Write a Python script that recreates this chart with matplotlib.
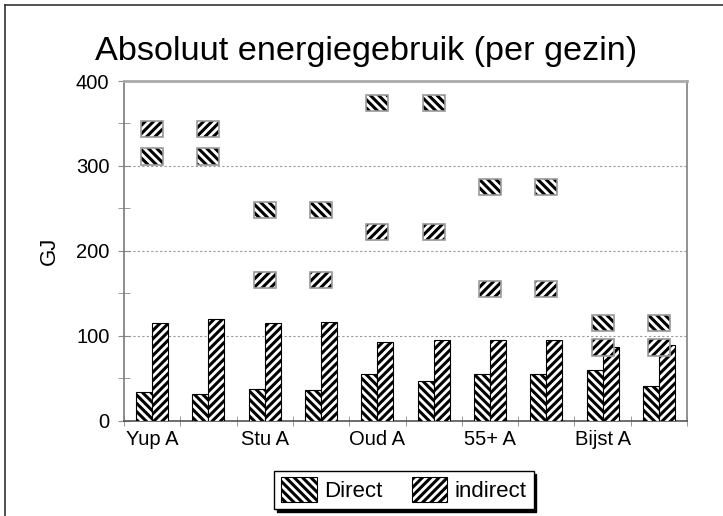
#!/usr/bin/env python3
"""Absoluut energiegebruik per gezin: bars + hatched marker boxes."""

import numpy as np
import matplotlib

matplotlib.use("Agg")
import matplotlib.pyplot as plt
from matplotlib.lines import Line2D

labels = ["Yup A", "", "Stu A", "", "Oud A", "", "55+ A", "", "Bijst A", ""]
direct = [33, 31.5, 37, 36, 55, 46.5, 55, 55, 60, 41]
indirect = [115, 119, 115, 116.5, 92.5, 94.5, 94.5, 94.5, 86.5, 88.5]
direct_mark = [311, 311, 248, 248, 374, 374, 275, 275, 115, 115]
indirect_mark = [343, 343, 166, 166, 222, 222, 155, 155, 86, 86]

plt.rcParams["font.family"] = ["Liberation Sans", "DejaVu Sans"]
plt.rcParams["hatch.linewidth"] = 2.2

H_DIRECT = "\\\\\\\\"
H_INDIRECT = "////"

fig = plt.figure(figsize=(7.23, 5.16), dpi=100)
ax = fig.add_axes([124 / 723, 1 - 420.5 / 516, 563 / 723, 339.5 / 516])

x = np.arange(len(labels))
bw = 0.285
ax.bar(x - bw / 2, direct, bw, color="white", edgecolor="black", hatch=H_DIRECT,
       lw=0.8, label="Direct", zorder=3)
ax.bar(x + bw / 2, indirect, bw, color="white", edgecolor="black", hatch=H_INDIRECT,
       lw=0.8, label="indirect", zorder=3)

# hatched marker boxes
mw, mh = 0.39, 19
for vals, h in ((direct_mark, H_DIRECT), (indirect_mark, H_INDIRECT)):
    vals = np.asarray(vals, float)
    ax.bar(x, mh, mw, bottom=vals - mh / 2, color="white", edgecolor="black",
           hatch=h, lw=0, zorder=4)
    ax.bar(x, mh, mw, bottom=vals - mh / 2, fill=False, edgecolor="#9a9a9a",
           lw=1.2, zorder=5)

ax.set_xlim(-0.5, len(labels) - 0.5)
ax.set_ylim(0, 400)
ax.set_xticks(x)
ax.set_xticklabels(labels, fontsize=14.5)
ax.set_xticks(np.arange(-0.5, len(labels)), minor=True)
ax.tick_params(axis="x", which="major", length=0, pad=7)
ax.tick_params(axis="x", which="minor", direction="inout", length=7, color="#8a8a8a")

ax.set_yticks(np.arange(0, 401, 100))
ax.set_yticks(np.arange(50, 400, 100), minor=True)
ax.tick_params(axis="y", which="both", direction="inout", length=9, color="#8a8a8a",
               labelsize=14.5, pad=6)

ax.yaxis.grid(True, color="#9a9a9a", ls=(0, (2, 2)), lw=0.8)
ax.set_axisbelow(True)

ax.set_ylabel("GJ", fontsize=16)
ax.yaxis.set_label_coords(-0.114, 0.5)

ax.spines["top"].set_color("#aaaaaa")
ax.spines["top"].set_linewidth(2)
ax.spines["right"].set_color("#8a8a8a")
ax.spines["right"].set_linewidth(1.3)
ax.spines["left"].set_color("#7a7a7a")
ax.spines["left"].set_linewidth(1.2)
ax.spines["bottom"].set_color("#555555")
ax.spines["bottom"].set_linewidth(1.2)

fig.text(366 / 723, 1 - 60 / 516, "Absoluut energiegebruik (per gezin)",
         fontsize=24.7, ha="center", va="baseline")

leg = ax.legend(loc="lower center", bbox_to_anchor=(404 / 723, 1 - 509 / 516),
                bbox_transform=fig.transFigure, ncol=2, fontsize=16, frameon=True,
                fancybox=False, shadow={"color": "black", "alpha": 1},
                handlelength=1.6, handleheight=1.35, handletextpad=0.35,
                columnspacing=1.3, borderaxespad=0, borderpad=0.3)
leg.get_frame().set_edgecolor("black")
leg.get_frame().set_linewidth(1.0)

# outer chart border (top and left edges visible)
fig.add_artist(Line2D([5 / 723, 1], [1 - 5 / 516, 1 - 5 / 516], color="#333333",
                      lw=1.2, transform=fig.transFigure))
fig.add_artist(Line2D([5 / 723, 5 / 723], [0, 1 - 5 / 516], color="#333333",
                      lw=1.2, transform=fig.transFigure))

fig.savefig("out.png", dpi=100)
